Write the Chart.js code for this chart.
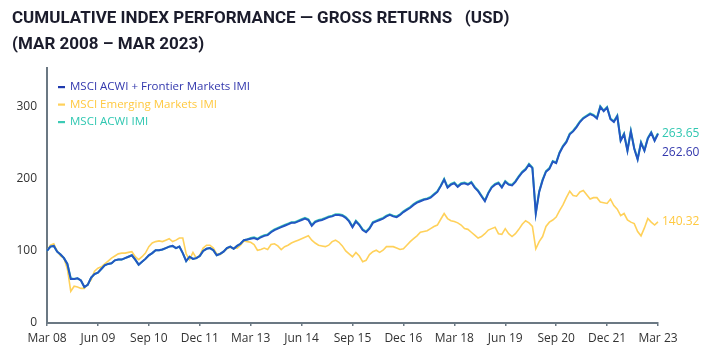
<!DOCTYPE html>
<html>
<head>
<meta charset="utf-8">
<script src="https://cdn.jsdelivr.net/npm/chart.js@4.4.0/dist/chart.umd.min.js"></script>
<style>
  html, body { margin: 0; padding: 0; background: #ffffff; }
  #wrap { position: relative; width: 701px; height: 357px; overflow: hidden; }
  #title { position: absolute; left: 12px; top: 4px; font-family: Roboto, sans-serif; font-weight: 700; font-size: 17px; line-height: 26px; color: #1b1c2c; white-space: pre; }
  canvas { position: absolute; left: 0; top: 0; }
</style>
</head>
<body>
<div id="wrap">
  <canvas id="c" width="701" height="357"></canvas>
  <div id="title">CUMULATIVE INDEX PERFORMANCE — GROSS RETURNS   (USD)
(MAR 2008 – MAR 2023)</div>
</div>
<script>
// ---- Data (monthly, Mar 2008 – Mar 2023) ----
const monthNames = ['Jan','Feb','Mar','Apr','May','Jun','Jul','Aug','Sep','Oct','Nov','Dec'];
const startYear = 2008, startMonth = 2, nPoints = 181;
const tickEvery = 15; // Mar 08, Jun 09, Sep 10, ...

const seriesNames = ['MSCI ACWI + Frontier Markets IMI', 'MSCI Emerging Markets IMI', 'MSCI ACWI IMI'];
const endValues = ['262.60', '140.32', '263.65'];

const acwiFrontier = [
100,106,107,99,95,90,82,61,61,62,
59,50,53,63,68,70,75,80,82,83,
87,88,88,90,92,94,88,81,85,89,
94,97,101,101,102,104,106,107,104,106,
97,86,92,89,90,93,100,103,104,101,
94,96,99,104,106,103,107,110,115,116,
117,118,116,119,121,122,126,129,131,133,
135,137,139,139,141,143,145,143,135,140,
142,143,145,147,148,150,150,149,146,141,
133,141,136,129,126,131,139,141,143,145,
148,150,148,147,150,154,157,160,164,167,
169,171,172,174,178,182,190,199,188,192,
194,189,193,194,192,195,188,183,176,169,
180,188,192,194,188,196,192,191,196,203,
209,213,220,215,152,182,198,210,214,224,
222,236,245,251,262,266,272,279,284,287,
290,288,284,300,294,299,283,279,287,253,
262,239,266,242,227,250,239,256,264,253,
262.6];

const emergingIMI = [
100,108,110,100,93,90,75,44,51,50,
48,48,54,60,72,76,78,82,86,90,
93,96,97,97,98,99,92,88,92,97,
106,111,113,114,113,115,117,113,115,118,
118,96,88,98,90,94,104,108,108,104,
96,95,99,103,105,104,104,108,114,113,
112,109,101,102,104,102,109,110,107,102,
106,108,111,113,115,117,119,121,115,111,
108,107,106,108,113,115,112,107,100,96,
92,98,93,85,87,95,99,101,98,101,
106,106,106,104,102,103,108,113,117,121,
126,127,128,131,134,136,144,152,145,142,
141,139,136,131,130,126,122,118,120,124,
129,131,133,124,123,131,124,120,124,130,
137,142,139,134,103,113,120,134,140,143,
147,156,164,174,183,177,176,182,184,178,
172,174,174,168,167,166,172,163,158,149,
152,143,140,138,127,121,132,145,140,136,
140.32];

const acwiIMI = [
100,106,107,99,95,90,82,62,61,62,
59,50,53,63,68,70,75,80,82,83,
87,88,88,90,92,94,88,81,85,89,
94,97,101,101,102,104,106,107,104,106,
97,86,92,89,90,93,100,103,104,101,
94,96,99,104,106,103,107,110,115,116,
118,119,117,120,122,123,127,130,132,134,
136,138,140,140,142,144,146,144,136,141,
143,144,146,148,149,151,151,150,147,142,
134,142,137,130,127,132,140,142,144,146,
149,151,149,148,151,155,158,161,165,168,
170,172,173,175,179,183,191,200,189,193,
195,190,194,195,193,196,189,184,177,170,
181,189,193,195,189,197,193,192,197,204,
210,214,221,216,153,183,199,211,215,225,
223,237,246,252,263,267,273,280,285,288,
291,289,285,301,295,300,284,280,288,254,
263,240,267,243,228,251,240,257,265,254,
263.65];

const labels = [];
for (let i = 0; i < nPoints; i++) {
  const mi = startMonth + i;
  const y = startYear + Math.floor(mi / 12);
  labels.push(monthNames[mi % 12] + ' ' + String(y).slice(2));
}

const lineColors = ['#2456c2', '#ffd15a', '#3ccab5'];
const textColors = ['#3338ad', '#ffc940', '#30c7b1'];
const axisColor = '#6b7883';

Chart.defaults.font.family = "'Open Sans', 'Noto Sans', sans-serif";

const legendPlugin = {
  id: 'insideLegend',
  afterDraw(chart) {
    const ctx = chart.ctx;
    const area = chart.chartArea;
    ctx.save();
    ctx.font = "11.5px 'Open Sans', sans-serif";
    ctx.textBaseline = 'middle';
    ctx.textAlign = 'left';
    const order = [0, 1, 2];
    order.forEach((di, k) => {
      const yy = area.top + 19 + k * 17.5;
      ctx.fillStyle = lineColors[di] === '#2456c2' ? '#1f3aae' : lineColors[di];
      ctx.fillRect(area.left + 11, yy - 1, 7, 2.2);
      ctx.fillStyle = textColors[di];
      ctx.fillText(seriesNames[di], area.left + 23, yy);
    });
    ctx.restore();
  }
};

const endLabelPlugin = {
  id: 'endLabels',
  afterDatasetsDraw(chart) {
    const ctx = chart.ctx;
    const yScale = chart.scales.y;
    const x = chart.chartArea.right + 4;
    ctx.save();
    ctx.font = "12px 'Open Sans', sans-serif";
    ctx.textBaseline = 'middle';
    ctx.textAlign = 'left';
    const tealY = yScale.getPixelForValue(acwiIMI[acwiIMI.length - 1]);
    const emY = yScale.getPixelForValue(emergingIMI[emergingIMI.length - 1]);
    ctx.fillStyle = textColors[2];
    ctx.fillText(endValues[2], x, tealY);
    ctx.fillStyle = textColors[0];
    ctx.fillText(endValues[0], x, tealY + 19);
    ctx.fillStyle = textColors[1];
    ctx.fillText(endValues[1], x, emY);
    ctx.restore();
  }
};

new Chart(document.getElementById('c'), {
  type: 'line',
  data: {
    labels: labels,
    datasets: [
      { label: seriesNames[0], data: acwiFrontier, borderColor: lineColors[0], borderWidth: 2, pointRadius: 0, tension: 0, order: 0 },
      { label: seriesNames[1], data: emergingIMI, borderColor: lineColors[1], borderWidth: 1.6, pointRadius: 0, tension: 0, order: 2 },
      { label: seriesNames[2], data: acwiIMI, borderColor: lineColors[2], borderWidth: 2, pointRadius: 0, tension: 0, order: 1 }
    ]
  },
  options: {
    responsive: false,
    animation: false,
    devicePixelRatio: 1,
    layout: { padding: { top: 68, right: 43, left: 0, bottom: 0 } },
    plugins: { legend: { display: false }, tooltip: { enabled: false }, title: { display: false } },
    scales: {
      x: {
        type: 'category',
        offset: false,
        grid: { display: true, drawOnChartArea: false, drawTicks: true, tickLength: 3, color: axisColor, lineWidth: 1.5 },
        border: { display: true, color: axisColor, width: 2 },
        ticks: {
          autoSkip: false, maxRotation: 0, minRotation: 0, padding: 5,
          color: '#333333', font: { size: 12 },
          callback: function (v, i) { return i % tickEvery === 0 ? this.getLabelForValue(v) : null; }
        },
        afterFit: function (s) { s.height = 34; }
      },
      y: {
        min: 0, max: 354,
        grid: { display: true, drawOnChartArea: false, drawTicks: false },
        border: { display: true, color: axisColor, width: 2 },
        ticks: { stepSize: 100, padding: 10, color: '#333333', font: { size: 12 } },
        afterBuildTicks: function (s) { s.ticks = s.ticks.filter(t => t.value % 100 === 0); },
        afterFit: function (s) { s.width = 47; }
      }
    }
  },
  plugins: [legendPlugin, endLabelPlugin]
});
</script>
</body>
</html>
